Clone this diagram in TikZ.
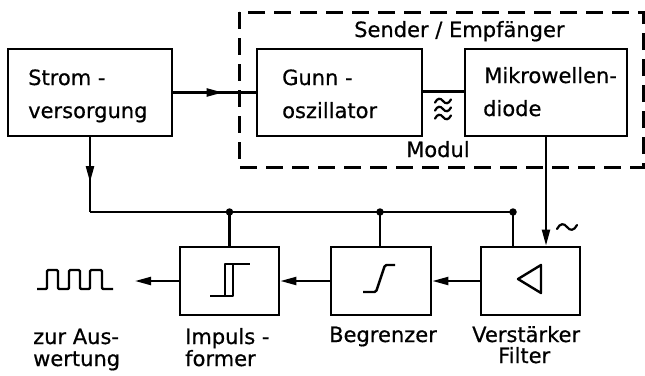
\documentclass[tikz,border=0pt]{standalone}
\usepackage{fontspec}
\setmainfont[FakeBold=0.6]{DejaVu Sans}
\usetikzlibrary{arrows.meta,decorations.markings}

\tikzset{
  blk/.style={draw, line width=2.8pt, inner sep=0pt, minimum width=#1},
  topblk/.style={blk=#1, minimum height=87pt},
  lowblk/.style={blk=#1, minimum height=68pt},
  lbl/.style={anchor=base west, inner sep=0pt, font=\fontsize{21}{24}\selectfont},
  wire/.style={line width=2.2pt},
  tip/.style={-{Triangle[length=16pt,width=8pt]}},
  midarrow/.style={postaction={decorate}, decoration={markings,
      mark=at position #1 with {\arrow{Triangle[length=16pt,width=8pt]}}}},
  sym/.style={line width=2.4pt, line join=round},
  dot/.style={circle, fill, inner sep=0pt, minimum size=7.5pt},
  pics/wave/.style={code={
      \draw[line width=2.2pt, line cap=round]
        (-10,2) .. controls (-7,-4) and (-3,-4) .. (0,0)
                .. controls (3,4) and (7,4) .. (10,-2);}}
}

\begin{document}
\begin{tikzpicture}[x=1pt, y=-1pt]
  \useasboundingbox[fill=white] (0,0) rectangle (645,375);

  % transmitter / receiver module
  \draw[line width=3pt, dash pattern=on 17pt off 9pt] (239,12) rectangle (643,167);
  \node[lbl] (sendlbl) at (354,37) {Sender / Empfänger};
  \node[lbl] (modlbl) at (406,157) {Modul};

  % upper row of blocks
  \node[topblk=164pt] (strom) at (90,92.5) {};
  \node[topblk=165pt] (gunn)  at (339.5,92.5) {};
  \node[topblk=162pt] (mikro) at (546,92.5) {};
  \node[lbl] (stroma) at (28,85)  {Strom -};
  \node[lbl] (stromb) at (28,118) {versorgung};
  \node[lbl] (gunna)  at (282,85)  {Gunn -};
  \node[lbl] (gunnb)  at (282,118) {oszillator};
  \node[lbl] (mikroa) at (484,83)  {Mikrowellen-};
  \node[lbl] (mikrob) at (483,116) {diode};

  % lower row of blocks
  \node[lowblk=99pt]  (impuls) at (229.5,281) {};
  \node[lowblk=100pt] (begr)   at (381,281) {};
  \node[lowblk=99pt]  (verst)  at (530.5,281) {};
  \node[lbl] (outa) at (33,344) {zur Aus-};
  \node[lbl] (outb) at (33,366) {wertung};
  \node[lbl] (impa) at (185,344) {Impuls -};
  \node[lbl] (impb) at (185,366) {former};
  \node[lbl] (begra) at (329,342) {Begrenzer};
  \node[lbl] (versta) at (472,342) {Verstärker};
  \node[lbl] (verstb) at (498,363) {Filter};

  % supply bus
  \coordinate (busL) at (strom.south |- 0,212);
  \coordinate (j1) at (impuls.north |- busL);
  \coordinate (j2) at (380,212);
  \coordinate (j3) at (513,212);
  \draw[wire, midarrow=0.6] (strom.south) -- (busL);
  \draw[wire] (busL) -- (j3);
  \draw[wire] (j1) -- (impuls.north);
  \draw[wire] (j2) -- (j2 |- begr.north);
  \draw[wire] (j3) -- (j3 |- verst.north);
  \node[dot] (d1) at (j1) {};
  \node[dot] (d2) at (j2) {};
  \node[dot] (d3) at (j3) {};

  % signal path
  \draw[wire, midarrow=0.6] (strom.east) -- (gunn.west);
  \draw[wire] (gunn.east |- 0,91.5) -- (mikro.west |- 0,91.5);
  \draw[wire, tip] (mikro.south) -- (mikro.south |- verst.north);
  \draw[wire, tip] (verst.west) -- (begr.east);
  \draw[wire, tip] (begr.west) -- (impuls.east);
  \coordinate (outtip) at (135,281);
  \draw[wire, tip] (impuls.west) -- (outtip);

  % microwave coupling and ac signal marks
  \pic[scale=0.8] at (443,101) {wave};
  \pic[scale=0.8] at (443,109) {wave};
  \pic[scale=0.8] at (443,117) {wave};
  \pic at (567,227) {wave};

  % pulse train
  \draw[sym, rounded corners=1.2pt]
    (37,289) -- (47,289) -- (47,270) -- (58,270) -- (58,289) -- (69,289)
    -- (69,270) -- (80,270) -- (80,289) -- (90,289) -- (90,270)
    -- (102,270) -- (102,289) -- (113,289);

  % Schmitt trigger symbol
  \draw[sym] (210,296) -- (233,296) -- (233,264);
  \draw[sym] (225,296) -- (225,264) -- (250,264);

  % limiter symbol
  \draw[sym, rounded corners=1.5pt] (363,292) -- (376,292) -- (385,265) -- (395,265);

  % amplifier symbol
  \draw[sym] (541,265) -- (541,293) -- (518,279) -- cycle;
\end{tikzpicture}
\end{document}
